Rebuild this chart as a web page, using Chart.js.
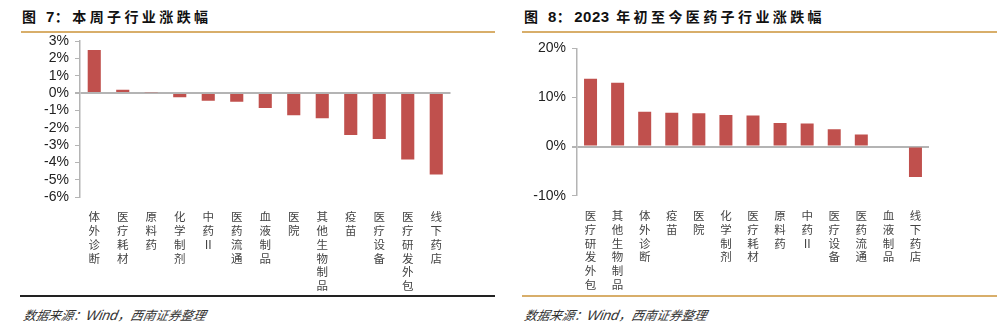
<!DOCTYPE html>
<html><head><meta charset="utf-8">
<script src="https://cdn.jsdelivr.net/npm/chart.js@4.4.0/dist/chart.umd.min.js"></script>
<style>
html,body{margin:0;padding:0;background:#fff;width:999px;height:328px;overflow:hidden;position:relative;font-family:"Liberation Sans",Arial,sans-serif;}
.title{position:absolute;top:6px;font-family:"Noto Sans CJK SC",sans-serif;font-weight:bold;font-size:14px;letter-spacing:3.4px;color:#111;white-space:nowrap;}
.title .n{font-family:"Liberation Sans",Arial,sans-serif;letter-spacing:0.5px;font-size:15px;}
.line{position:absolute;height:2px;}
.note{position:absolute;top:305px;font-family:"Noto Sans CJK SC",sans-serif;font-style:italic;font-size:12.5px;color:#333;white-space:nowrap;transform:skewX(-12deg);}
.note .w{font-family:"Liberation Sans",Arial,sans-serif;font-size:14px;}
canvas{position:absolute;top:0;}
</style></head>
<body>
<div class="title" style="left:22px">图 <span class="n">7</span>：本周子行业涨跌幅</div>
<div class="title" style="left:524px">图 <span class="n">8</span>：<span class="n">2023</span> 年初至今医药子行业涨跌幅</div>
<div class="line" style="left:21px;width:474px;top:31px;background:#D8AE6A"></div>
<div class="line" style="left:522px;width:475px;top:31px;background:#D8AE6A"></div>
<div class="line" style="left:20px;width:475px;top:295px;background:#222"></div>
<div class="line" style="left:522px;width:475px;top:295px;background:#D8AE6A"></div>
<div class="note" style="left:24px">数据来源：<span class="w">Wind</span>，西南证券整理</div>
<div class="note" style="left:525px">数据来源：<span class="w">Wind</span>，西南证券整理</div>
<canvas id="c1" width="500" height="300" style="left:0"></canvas>
<canvas id="c2" width="499" height="300" style="left:500px"></canvas>
<script>
const weekCategories = ["体外诊断","医疗耗材","原料药","化学制剂","中药Ⅱ","医药流通","血液制品","医院","其他生物制品","疫苗","医疗设备","医疗研发外包","线下药店"];
const weekValues = [2.48, 0.19, 0.05, -0.25, -0.45, -0.5, -0.87, -1.29, -1.46, -2.42, -2.65, -3.83, -4.7];
const ytdCategories = ["医疗研发外包","其他生物制品","体外诊断","疫苗","医院","化学制剂","医疗耗材","原料药","中药Ⅱ","医疗设备","医药流通","血液制品","线下药店"];
const ytdValues = [13.8, 13.0, 7.1, 6.9, 6.8, 6.4, 6.3, 4.8, 4.7, 3.5, 2.45, -0.2, -6.2];
const weekTicks = {min:-6, max:3, step:1};
const ytdTicks = {min:-10, max:20, step:10};

function makeChart(id, cats, vals, tk, opt){
  return new Chart(document.getElementById(id), {
    type:'bar',
    data:{labels:cats.map(s=>Array.from(s)), datasets:[{data:vals, backgroundColor:'#C0504D', borderWidth:0, barPercentage:opt.bp, categoryPercentage:1}]},
    options:{
      responsive:false, animation:false, devicePixelRatio:1,
      layout:{padding:{top:opt.top, right:opt.right, left:0, bottom:0}},
      plugins:{legend:{display:false}, tooltip:{enabled:false}},
      scales:{
        x:{
          grid:{display:false}, border:{display:false},
          ticks:{color:'#444', padding:opt.xpad, maxRotation:0, autoSkip:false, font:{family:'"Noto Sans CJK SC"', size:11.5, lineHeight:1.2}},
          afterFit(s){ s.height = opt.xh; }
        },
        y:{
          min:tk.min, max:tk.max,
          border:{display:true, color:'#b4b4b4', width:1.5},
          grid:{drawOnChartArea:true, drawTicks:true, tickLength:5, tickColor:'#b4b4b4',
            color:c=> (c.tick && c.tick.value===0) ? '#b4b4b4' : 'rgba(0,0,0,0)',
            lineWidth:c=> (c.tick && c.tick.value===0) ? 2 : 1},
          ticks:{stepSize:tk.step, autoSkip:false, color:'#222', padding:6, font:{family:'"Liberation Sans", Arial', size:14}, callback:v=>v+'%'},
          afterFit(s){ s.width = opt.yw; }
        }
      }
    }
  });
}
makeChart('c1', weekCategories, weekValues, weekTicks, {bp:0.46, top:41, right:49.5, xh:103, yw:80, xpad:5});
makeChart('c2', ytdCategories, ytdValues, ytdTicks, {bp:0.48, top:48.3, right:70, xh:104.3, yw:77, xpad:5});
</script>
</body></html>
